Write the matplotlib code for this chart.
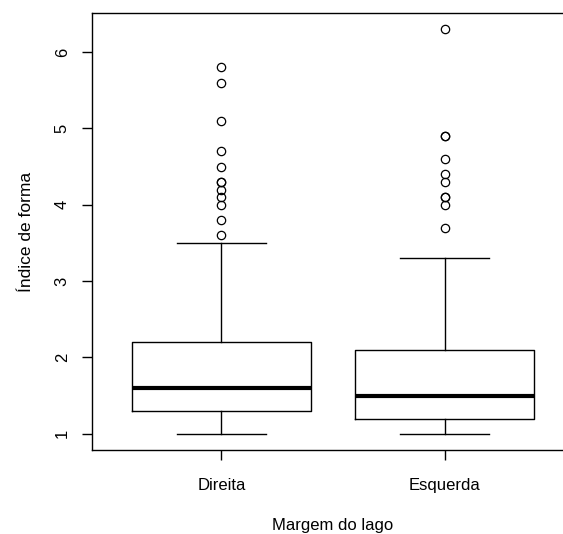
import matplotlib.pyplot as plt

plt.rcParams['font.family'] = ['Liberation Sans', 'DejaVu Sans']

grupos = ['Direita', 'Esquerda']

# resumo de cinco números por margem
bigode_inf = [1.0, 1.0]
q1 = [1.3, 1.2]
mediana = [1.6, 1.5]
q3 = [2.2, 2.1]
bigode_sup = [3.5, 3.3]

outliers_direita = [5.8, 5.6, 5.1, 4.7, 4.5, 4.3, 4.3, 4.2, 4.1, 4.0, 3.8, 3.6]
outliers_esquerda = [6.3, 4.9, 4.9, 4.6, 4.4, 4.3, 4.1, 4.1, 4.0, 3.7]
outliers = [outliers_direita, outliers_esquerda]

stats = []
for i, nome in enumerate(grupos):
    stats.append(dict(label=nome, whislo=bigode_inf[i], q1=q1[i], med=mediana[i],
                      q3=q3[i], whishi=bigode_sup[i], fliers=outliers[i]))

fig = plt.figure(figsize=(5.63, 5.34), dpi=100)
ax = fig.add_axes([92 / 563, 1 - 450 / 534, 482 / 563, (450 - 13) / 534])

ax.bxp(stats, positions=[1, 2], widths=0.8, showfliers=True,
       boxprops=dict(color='black', linewidth=1.0),
       medianprops=dict(color='black', linewidth=3.0, solid_capstyle='butt'),
       whiskerprops=dict(color='black', linewidth=1.0),
       capprops=dict(color='black', linewidth=1.0),
       capwidths=0.4,
       flierprops=dict(marker='o', markerfacecolor='none', markeredgecolor='black',
                       markersize=6, markeredgewidth=0.9))

ax.set_xlim(0.42, 2.58)
ax.set_ylim(0.788, 6.512)
ax.set_yticks([1, 2, 3, 4, 5, 6])
ax.set_yticklabels(['1', '2', '3', '4', '5', '6'], rotation=90, va='center')
ax.tick_params(axis='both', length=7, width=1.0, labelsize=12, color='black')
ax.tick_params(axis='y', pad=9)
ax.tick_params(axis='x', pad=13)

for s in ax.spines.values():
    s.set_linewidth(1.0)
    s.set_color('black')

ax.set_xlabel('Margem do lago', fontsize=12, labelpad=18)
ax.set_ylabel('Índice de forma', fontsize=12.5, labelpad=15)

fig.savefig('out.png', dpi=100)
